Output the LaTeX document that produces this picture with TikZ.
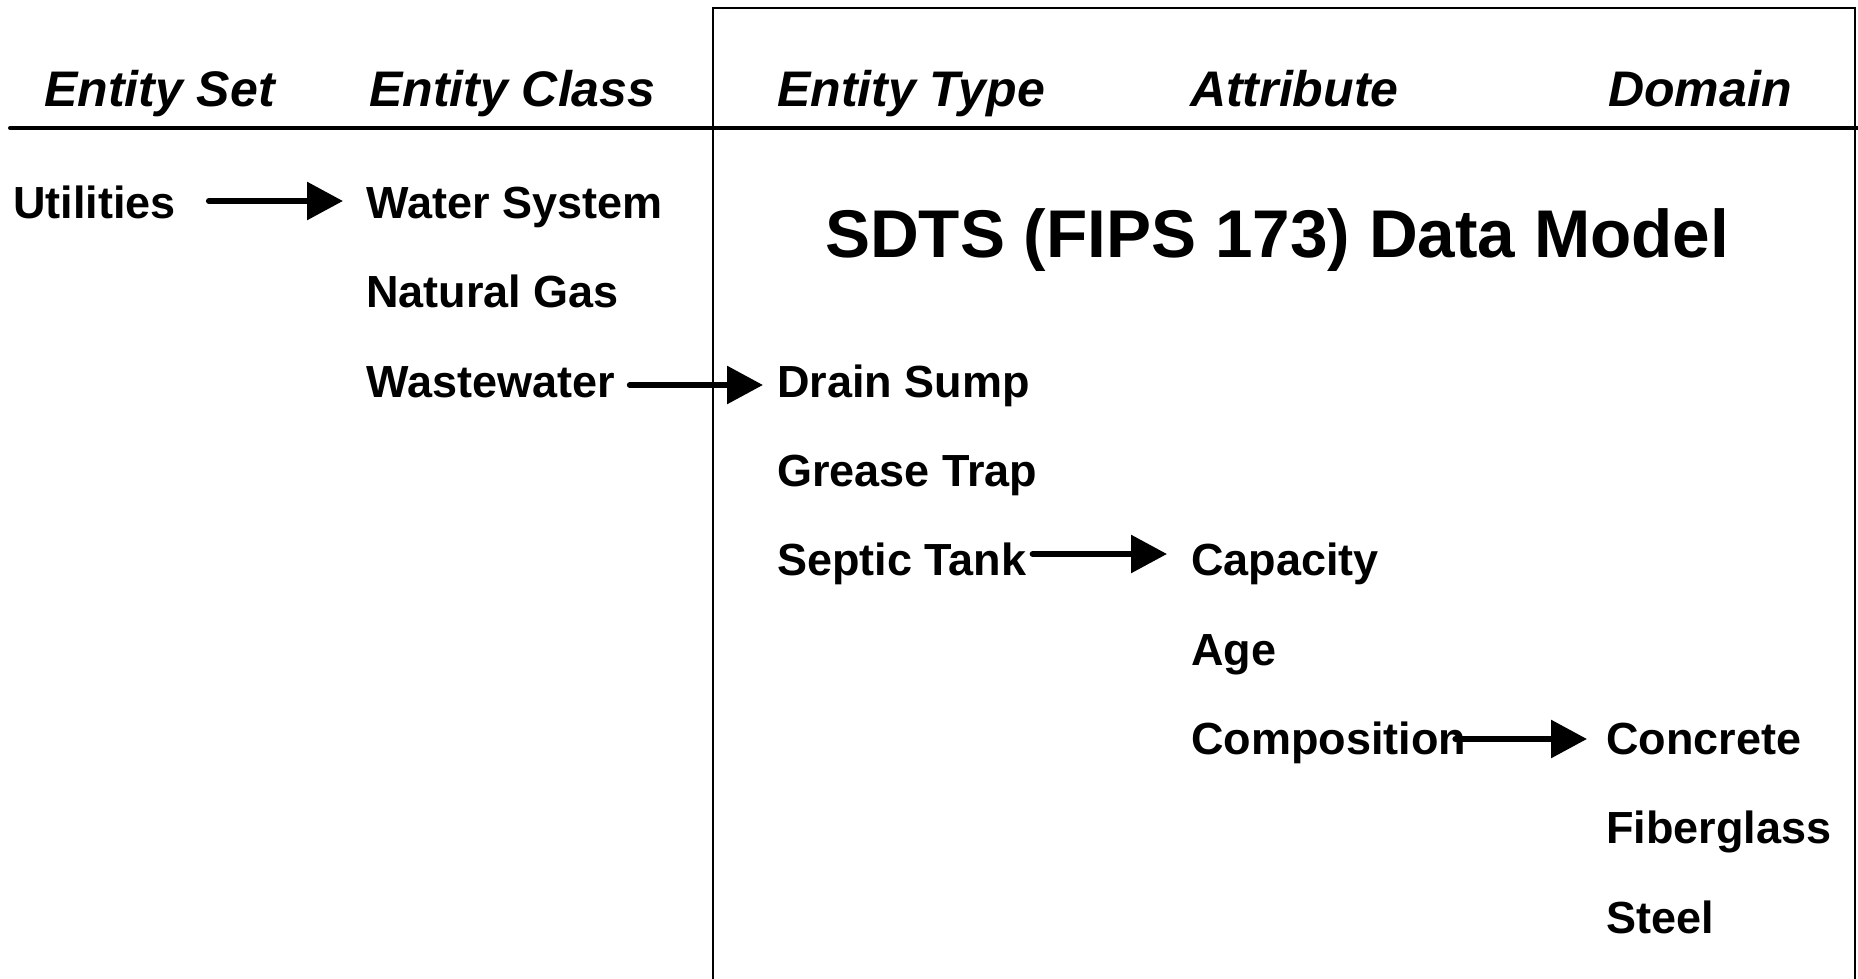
\documentclass[tikz,border=0pt]{standalone}
\usepackage{fontspec}
\setmainfont{Liberation Sans}
\usepackage{tikz}
\usetikzlibrary{arrows.meta}

\begin{document}
\begin{tikzpicture}[x=1pt, y=-1pt,
  head/.style={anchor=base west, inner sep=0pt, font=\fontsize{50}{60}\selectfont\bfseries\itshape},
  item/.style={anchor=base west, inner sep=0pt, text height=32pt, text depth=0pt, font=\fontsize{45}{54}\selectfont\bfseries},
  link/.style={line width=6pt, line cap=round, -{Triangle[length=36pt, width=37pt]}}]
\useasboundingbox (0,0) rectangle (1858,979);

\draw[line width=4pt, line cap=round] (10,128) -- (1858,128);
\draw[line width=2pt] (713,979) -- (713,8) -- (1855,8) -- (1855,979);

\node[head] (hset) at (44,107) {Entity Set};
\node[head] (hclass) at (369,107) {Entity Class};
\node[head] (htype) at (777,107) {Entity Type};
\node[head] (hattr) at (1190,107) {Attribute};
\node[head] (hdom) at (1608,107) {Domain};

\node[anchor=base west, inner sep=0pt, font=\fontsize{67.5}{80}\selectfont\bfseries] (title) at (825,257) {SDTS (FIPS 173) Data Model};

\node[item] (util) at (13,218) {Utilities};

\node[item] (water) at (366,218) {Water System};
\node[item] (gas) at (366,307) {Natural Gas};
\node[item] (waste) at (366,397) {Wastewater};

\node[item] (drain) at (777,397) {Drain Sump};
\node[item] (grease) at (777,486) {Grease Trap};
\node[item] (septic) at (777,575) {Septic Tank};

\node[item] (cap) at (1191,575) {Capacity};
\node[item] (age) at (1191,665) {Age};
\node[item] (comp) at (1191,754) {Composition};

\node[item] (concrete) at (1606,754) {Concrete};
\node[item] (fiber) at (1606,843) {Fiberglass};
\node[item] (steel) at (1606,933) {Steel};

\draw[link, shorten <=33pt, shorten >=23pt] ([yshift=1pt]util.east) -- ([yshift=1pt]water.west);
\draw[link, shorten <=15pt, shorten >=14pt] ([yshift=-4pt]waste.east) -- ([yshift=-4pt]drain.west);
\draw[link, shorten <=6pt, shorten >=24pt] ([yshift=5pt]septic.east) -- ([yshift=5pt]cap.west);
\draw[link, shorten <=-11pt, shorten >=19pt] ([yshift=-1pt]comp.east) -- ([yshift=-1pt]concrete.west);

\end{tikzpicture}
\end{document}
